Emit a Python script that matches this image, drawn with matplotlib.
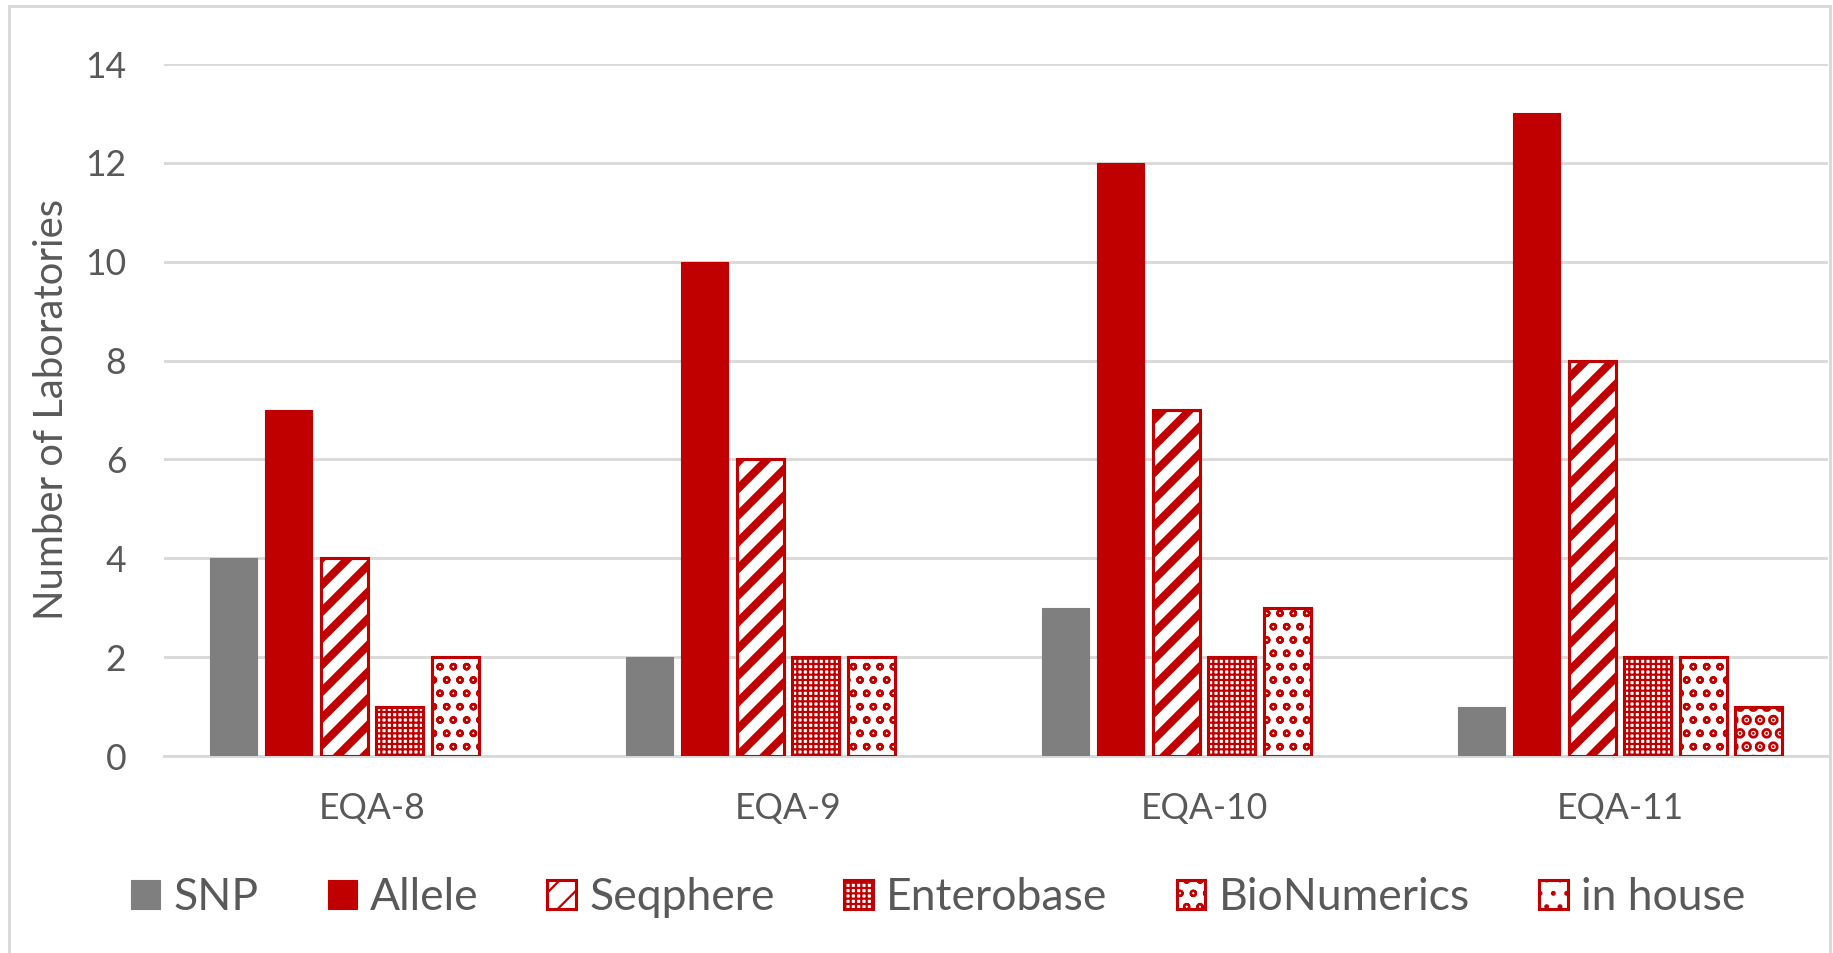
import numpy as np
import matplotlib
matplotlib.use("Agg")
import matplotlib.pyplot as plt
from matplotlib.patches import Patch
from matplotlib.lines import Line2D

categories = ["EQA-8", "EQA-9", "EQA-10", "EQA-11"]
methods = ["SNP", "Allele", "Seqphere", "Enterobase", "BioNumerics", "in house"]
snp = [4, 2, 3, 1]
allele = [7, 10, 12, 13]
seqphere = [4, 6, 7, 8]
enterobase = [1, 2, 2, 2]
bionumerics = [2, 2, 3, 2]
in_house = [0, 0, 0, 1]
yticks = [0, 2, 4, 6, 8, 10, 12, 14]

series = [snp, allele, seqphere, enterobase, bionumerics, in_house]
red = "#C00000"
gray = "#7F7F7F"
# (face, edge, hatch, hatch linewidth)
styles = [
    (gray, gray, None, 1.0),
    (red, red, None, 1.0),
    ("white", red, "//", 3.6),
    ("white", red, "+++++", 1.0),
    ("white", red, "oo", 1.1),
    ("white", red, "..", 3.5),
]

plt.rcParams["font.family"] = ["Lato", "DejaVu Sans"]
txt = "#595959"

dpi = 160
fig = plt.figure(figsize=(1833 / dpi, 953 / dpi), dpi=dpi)
ax = fig.add_axes([164 / 1833, 1 - 756 / 953, (1828 - 164) / 1833, (756 - 64) / 953])

x = np.arange(len(categories))
slot = 0.8 / len(methods)
width = 0.113
handles = []
for i, (name, vals, st) in enumerate(zip(methods, series, styles)):
    face, edge, hatch, hlw = st
    pos = x - 0.4 + slot * (i + 0.5)
    with plt.rc_context({"hatch.linewidth": hlw}):
        bars = ax.bar(pos, vals, width, color=face, edgecolor=edge,
                      linewidth=1.4 if hatch else 0.5, hatch=hatch, zorder=3)
        for b, v in zip(bars, vals):
            if hasattr(b, "set_hatch_linewidth"):
                b.set_hatch_linewidth(hlw)
            if v == 0:
                b.set_visible(False)
        h = Patch(facecolor=face, edgecolor=edge, hatch=hatch,
                  linewidth=1.4 if hatch else 0.5, label=name)
        if hasattr(h, "set_hatch_linewidth"):
            h.set_hatch_linewidth(hlw)
    handles.append(h)

ax.set_xlim(-0.5, 3.5)
ax.set_ylim(0, 14)
ax.set_yticks(yticks)
ax.set_xticks(x)
ax.set_xticklabels(categories)
ax.tick_params(axis="both", length=0, labelsize=16, colors=txt)
ax.tick_params(axis="x", pad=16)
ax.tick_params(axis="y", pad=17)
ax.yaxis.grid(True, color="#D9D9D9", linewidth=1.3, zorder=0)
ax.set_axisbelow(True)
for s in ["top", "right", "left"]:
    ax.spines[s].set_visible(False)
ax.spines["bottom"].set_color("#D9D9D9")
ax.spines["bottom"].set_linewidth(1.3)
ax.set_ylabel("Number of Laboratories", fontsize=18, color=txt)
ax.yaxis.set_label_coords(-0.0565, 0.5)

fig.legend(handles=handles, loc="center", bbox_to_anchor=(0.512, 0.058), ncol=6,
           frameon=False, fontsize=20, labelcolor=txt, handlelength=0.65,
           handleheight=0.65, handletextpad=0.3, columnspacing=1.55)

# chart border
bc = "#D9D9D9"
fig.add_artist(Line2D([9 / 1833, 9 / 1833], [0, 1 - 6 / 953], color=bc, lw=1.3))
fig.add_artist(Line2D([9 / 1833, 1830 / 1833], [1 - 6 / 953, 1 - 6 / 953], color=bc, lw=1.3))
fig.add_artist(Line2D([1830 / 1833, 1830 / 1833], [0, 1 - 6 / 953], color=bc, lw=1.3))

fig.savefig("out.png", dpi=dpi)
